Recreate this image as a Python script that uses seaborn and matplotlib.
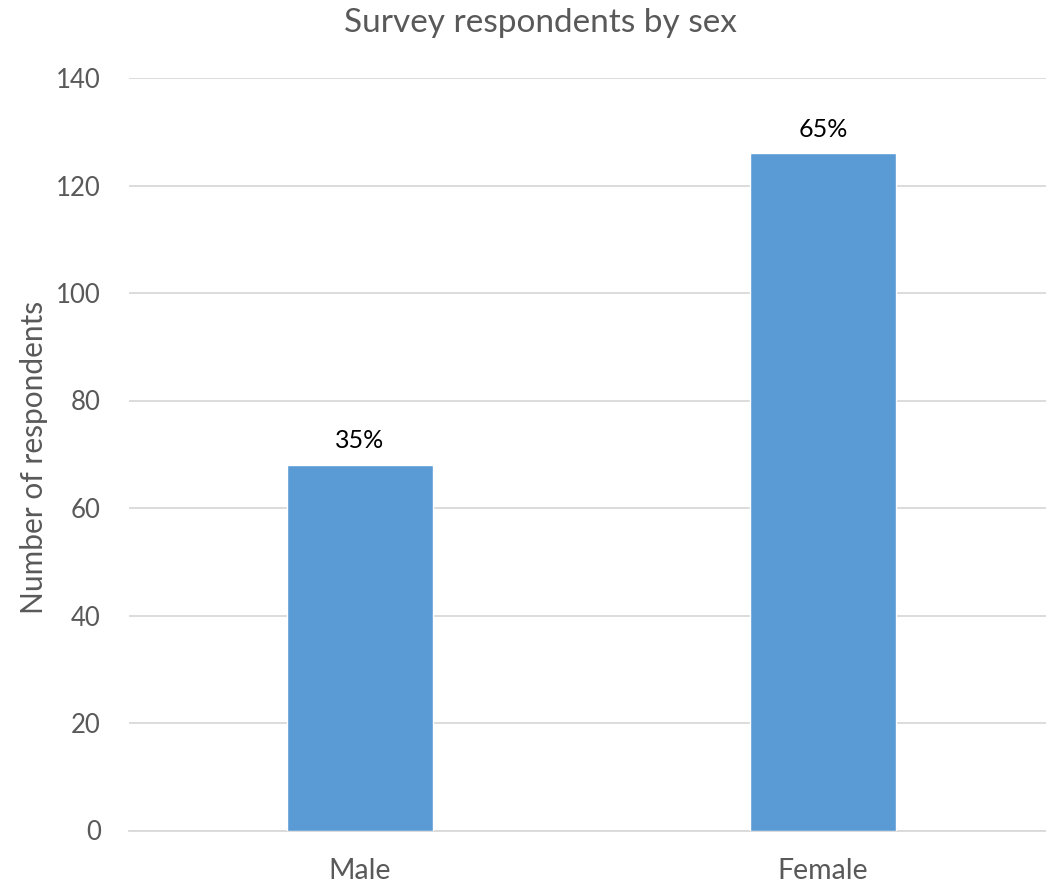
import matplotlib
matplotlib.use("Agg")
import matplotlib.pyplot as plt
import seaborn as sns
import pandas as pd

# Survey data
categories = ["Male", "Female"]
respondents = [68, 126]
y_ticks = [0, 20, 40, 60, 80, 100, 120, 140]

total = sum(respondents)
shares = [v / total for v in respondents]

sns.set_theme(style="white")
plt.rcParams["font.family"] = ["Lato", "DejaVu Sans"]

TEXT_GREY = "#595959"
GRID_GREY = "#D9D9D9"
BAR_BLUE = "#5B9BD5"

fig = plt.figure(figsize=(10.46, 8.86), dpi=100)
ax = fig.add_axes([128.5 / 1046, (886 - 830.5) / 886, 926 / 1046, (830.5 - 78) / 886])

df = pd.DataFrame({"sex": categories, "count": respondents})
sns.barplot(data=df, x="sex", y="count", color=BAR_BLUE, saturation=1,
            width=0.314, ax=ax, zorder=3)

ax.set_ylim(0, 140)
ax.set_xlim(-0.5, 1.5)
ax.set_yticks(y_ticks)
ax.yaxis.grid(True, color=GRID_GREY, linewidth=1.3, zorder=0)
ax.set_axisbelow(True)
for side in ["top", "right", "left"]:
    ax.spines[side].set_visible(False)
ax.spines["bottom"].set_color(GRID_GREY)
ax.spines["bottom"].set_linewidth(1.3)

ax.tick_params(axis="y", length=0, pad=20, labelsize=18.5, labelcolor=TEXT_GREY)
ax.tick_params(axis="x", length=0, pad=20, labelsize=20.5, labelcolor=TEXT_GREY)
ax.set_xlabel("")
ax.set_ylabel("")

fig.text(34 / 1046, 1 - 457 / 886, "Number of respondents", rotation=90,
         ha="center", va="center", fontsize=21.5, color=TEXT_GREY)

for i, (v, s) in enumerate(zip(respondents, shares)):
    ax.annotate(f"{s:.0%}", (i, v), xytext=(0, 9), textcoords="offset points",
                ha="center", va="bottom", fontsize=18, color="black")

fig.text(540 / 1046, 1 - 23 / 886, "Survey respondents by sex", ha="center",
         va="center", fontsize=24, color=TEXT_GREY)

fig.savefig("out.png", dpi=100)
